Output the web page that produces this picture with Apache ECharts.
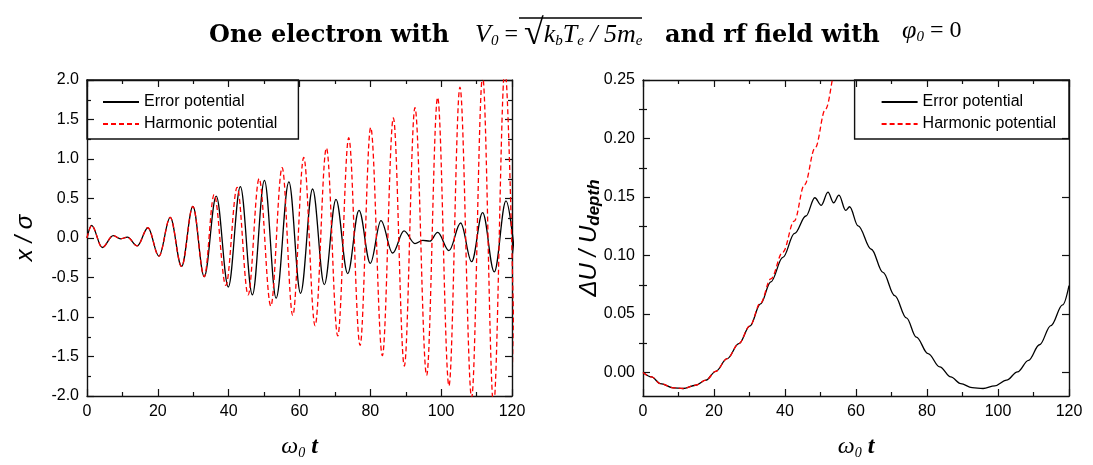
<!DOCTYPE html>
<html>
<head>
<meta charset="utf-8">
<script src="https://cdn.jsdelivr.net/npm/echarts@6/dist/echarts.min.js"></script>
<style>
  html, body { margin: 0; padding: 0; background: #fff; }
  #chart { width: 1093px; height: 465px; }
</style>
</head>
<body>
<div id="chart"></div>
<script>
// left panel: x / sigma, extrema
const errT  = [0, 1.3, 4.3, 7.4, 9.5, 11.4, 14.2, 17.2, 20.3, 23.5, 26.7, 29.9, 33.1, 36.5, 39.9, 43.3, 46.7, 50.1, 53.4, 57.0, 60.3, 63.7, 67.0, 70.3, 73.6, 76.8, 80.0, 83.0, 86.3, 89.5, 92.6, 94.8, 96.8, 99.0, 102.2, 105.5, 108.6, 111.7, 115.0, 118.3, 121.5];
const errX  = [0, 0.16, -0.12, 0.03, -0.01, 0.01, -0.10, 0.13, -0.23, 0.26, -0.36, 0.40, -0.49, 0.53, -0.62, 0.65, -0.72, 0.73, -0.76, 0.71, -0.70, 0.62, -0.59, 0.49, -0.45, 0.35, -0.32, 0.22, -0.19, 0.09, -0.07, -0.03, -0.04, 0.07, -0.16, 0.19, -0.30, 0.32, -0.43, 0.47, -0.55];
const harmT = [0, 1.3, 4.3, 7.4, 9.5, 11.4, 14.2, 17.2, 20.3, 23.5, 26.7, 29.9, 33.1, 35.9, 39.2, 42.4, 45.5, 48.6, 51.9, 55.1, 58.1, 61.2, 64.4, 67.6, 70.8, 73.9, 77.1, 80.1, 83.4, 86.5, 89.6, 92.6, 95.9, 99.0, 102.2, 105.3, 108.6, 111.7, 114.8, 118.0, 121.0];
const harmX = [0, 0.16, -0.12, 0.03, -0.01, 0.01, -0.10, 0.13, -0.23, 0.26, -0.36, 0.40, -0.49, 0.55, -0.60, 0.64, -0.72, 0.75, -0.86, 0.89, -0.98, 1.02, -1.11, 1.14, -1.24, 1.27, -1.36, 1.40, -1.49, 1.52, -1.62, 1.65, -1.74, 1.78, -1.87, 1.91, -2.02, 2.05, -2.12, 2.15, -2.2];

// right panel: dU / U_depth, plateaus of the ripples
const duErrT  = [0, 2.4, 4.9, 8.5, 11.3, 14.8, 17.7, 20.5, 23.7, 27.0, 30.1, 33.1, 36.0, 39.4, 42.7, 45.9, 48.4, 50.2, 52.1, 53.7, 55.2, 57.1, 58.2, 60.6, 64.3, 67.6, 70.9, 74.2, 77.0, 80.3, 83.6, 86.7, 89.5, 92.7, 95.8, 99.1, 102.4, 105.5, 108.6, 111.7, 114.9, 118.2, 120];
const duErr   = [0, -0.0037, -0.0094, -0.0130, -0.0136, -0.0108, -0.0065, 0.0011, 0.0119, 0.0247, 0.0397, 0.0587, 0.0775, 0.0984, 0.119, 0.1338, 0.1494, 0.1429, 0.1542, 0.1451, 0.1516, 0.1386, 0.1417, 0.1253, 0.1054, 0.0856, 0.0658, 0.0468, 0.0303, 0.0162, 0.0048, -0.0037, -0.0094, -0.0128, -0.0136, -0.0113, -0.0065, 0.0006, 0.0105, 0.0238, 0.0402, 0.0578, 0.0743];
const duHarmT = [0, 2.4, 4.9, 8.5, 11.3, 14.8, 17.7, 20.5, 23.7, 27.0, 30.1, 33.1, 36.0, 39.4, 42.6, 45.5, 48.5, 51.4, 54.5, 57.5];
const duHarm  = [0, -0.0037, -0.0094, -0.0130, -0.0136, -0.0108, -0.0065, 0.0011, 0.0119, 0.0247, 0.0400, 0.0595, 0.0800, 0.1030, 0.1295, 0.1605, 0.1920, 0.2250, 0.2620, 0.3000];

const duTicks = [0, 0.05, 0.10, 0.15, 0.20, 0.25];
const duMinor = [0.025, 0.075, 0.125, 0.175, 0.225];

const pairs = (t, v) => t.map((x, i) => [x, v[i]]);

const chart = echarts.init(document.getElementById('chart'), null, { renderer: 'canvas' });

const sans = 'Liberation Sans, Arial, sans-serif';
const serif = 'Liberation Serif, Times New Roman, serif';
const boldSerif = 'DejaVu Serif, serif';
const spine = { onZero: false, lineStyle: { color: '#111', width: 1.4 } };
const tickLine = { color: '#111', width: 1.2 };

function xAx(grid, pos) {
    const bottom = pos === 'bottom';
    return {
        type: 'value', gridIndex: grid, position: pos, min: 0, max: 120, interval: 20,
        axisLine: spine,
        axisTick: { inside: true, length: 7, lineStyle: tickLine },
        minorTick: { show: true, splitNumber: 2, length: 4, lineStyle: tickLine },
        axisLabel: { show: bottom, color: '#000', fontSize: 16, fontFamily: sans, margin: 8 },
        splitLine: { show: false }, minorSplitLine: { show: false },
        name: bottom ? '{w|ω}{s|0}{t| t}' : '',
        nameLocation: 'middle', nameGap: 38,
        nameTextStyle: { rich: {
            w: { fontFamily: serif, fontStyle: 'italic', fontSize: 24, color: '#000' },
            s: { fontFamily: serif, fontStyle: 'italic', fontSize: 14, color: '#000', padding: [12, 0, 0, 0] },
            t: { fontFamily: serif, fontStyle: 'italic', fontWeight: 'bold', fontSize: 24, color: '#000' }
        } }
    };
}

const mathRich = {
    m: { fontFamily: serif, fontStyle: 'italic', fontWeight: 'normal', fontSize: 26, color: '#000' },
    n: { fontFamily: serif, fontWeight: 'normal', fontSize: 24, color: '#000' },
    r: { fontFamily: serif, fontWeight: 'normal', fontSize: 36, color: '#000' },
    s: { fontFamily: serif, fontStyle: 'italic', fontWeight: 'normal', fontSize: 15, color: '#000', padding: [13, 0, 0, 0] }
};
const boldStyle = { fontFamily: boldSerif, fontWeight: 'bold', fontSize: 24, color: '#000' };

const option = {
    animation: false,
    backgroundColor: '#fff',
    title: [
        { left: 204, top: 19, text: 'One electron with', textStyle: boldStyle },
        { left: 470, top: 12, text: '{m|V}{s|0}{n| = }{r|√}{m|k}{s|b}{m|T}{s|e}{m| / 5m}{s|e}', textStyle: { rich: mathRich } },
        { left: 660, top: 19, text: 'and rf field with', textStyle: boldStyle },
        { left: 897, top: 12, text: '{m|φ}{s|0}{n| = 0}', textStyle: { rich: mathRich } }
    ],
    graphic: [
        { type: 'line', shape: { x1: 519, y1: 18, x2: 642, y2: 18 }, style: { stroke: '#000', lineWidth: 1.3 } }
    ],
    grid: [
        { left: 87, top: 80, width: 425, height: 317 },
        { left: 643, top: 80, width: 426, height: 317 }
    ],
    legend: [
        {
            left: 87, top: 80, orient: 'vertical',
            data: ['Error potential', 'Harmonic potential'],
            itemWidth: 36, itemHeight: 12, itemGap: 6,
            padding: [14, 21, 7, 15],
            itemStyle: { opacity: 0 },
            borderColor: '#111', borderWidth: 1.4,
            textStyle: { fontSize: 16, fontFamily: sans, color: '#000' }
        },
        {
            right: 24, top: 80, orient: 'vertical',
            data: ['Error potential', 'Harmonic potential'],
            itemWidth: 36, itemHeight: 12, itemGap: 6,
            padding: [14, 13, 7, 26],
            itemStyle: { opacity: 0 },
            borderColor: '#111', borderWidth: 1.4,
            textStyle: { fontSize: 16, fontFamily: sans, color: '#000' }
        }
    ],
    xAxis: [xAx(0, 'bottom'), xAx(0, 'top'), xAx(1, 'bottom'), xAx(1, 'top')],
    yAxis: [
        {
            type: 'value', gridIndex: 0, position: 'left', min: -2, max: 2, interval: 0.5,
            axisLine: spine,
            axisTick: { inside: true, length: 7, lineStyle: tickLine },
            minorTick: { show: true, splitNumber: 2, length: 4, lineStyle: tickLine },
            axisLabel: { color: '#000', fontSize: 16, fontFamily: sans, margin: 8, formatter: v => v.toFixed(1) },
            splitLine: { show: false },
            name: 'x / σ', nameLocation: 'middle', nameGap: 50,
            nameTextStyle: { fontFamily: sans, fontStyle: 'italic', fontSize: 24, color: '#000' }
        },
        {
            type: 'value', gridIndex: 0, position: 'right', min: -2, max: 2, interval: 0.5,
            axisLine: spine,
            axisTick: { inside: true, length: 7, lineStyle: tickLine },
            minorTick: { show: true, splitNumber: 2, length: 4, lineStyle: tickLine },
            axisLabel: { show: false }, splitLine: { show: false }
        },
        {
            type: 'value', gridIndex: 1, position: 'left', min: -0.02, max: 0.25,
            axisLine: spine,
            axisTick: { inside: true, length: 7, customValues: duTicks, lineStyle: tickLine },
            axisLabel: { color: '#000', fontSize: 16, fontFamily: sans, margin: 8, customValues: duTicks, formatter: v => v.toFixed(2) },
            splitLine: { show: false },
            name: '{a|ΔU / U}{s|depth}', nameLocation: 'middle', nameGap: 40, nameMoveOverlap: false,
            nameTextStyle: { rich: {
                a: { fontFamily: sans, fontStyle: 'italic', fontSize: 24, color: '#000' },
                s: { fontFamily: sans, fontStyle: 'italic', fontWeight: 'bold', fontSize: 17, color: '#000', padding: [11, 0, 0, 0] }
            } }
        },
        {
            type: 'value', gridIndex: 1, position: 'left', min: -0.02, max: 0.25,
            axisLine: { show: false },
            axisTick: { inside: true, length: 4, customValues: duMinor, lineStyle: tickLine },
            axisLabel: { show: false }, splitLine: { show: false }
        },
        {
            type: 'value', gridIndex: 1, position: 'right', min: -0.02, max: 0.25,
            axisLine: spine,
            axisTick: { inside: true, length: 7, customValues: duTicks, lineStyle: tickLine },
            axisLabel: { show: false }, splitLine: { show: false }
        },
        {
            type: 'value', gridIndex: 1, position: 'right', min: -0.02, max: 0.25,
            axisLine: { show: false },
            axisTick: { inside: true, length: 4, customValues: duMinor, lineStyle: tickLine },
            axisLabel: { show: false }, splitLine: { show: false }
        }
    ],
    series: [
        {
            name: 'Error potential', type: 'line', xAxisIndex: 0, yAxisIndex: 0,
            data: pairs(errT, errX), showSymbol: false, symbol: 'none',
            smooth: 0.36, smoothMonotone: 'x', clip: true,
            lineStyle: { color: '#000', width: 1.3 }, itemStyle: { color: '#000' }
        },
        {
            name: 'Harmonic potential', type: 'line', xAxisIndex: 0, yAxisIndex: 0,
            data: pairs(harmT, harmX), showSymbol: false, symbol: 'none',
            smooth: 0.36, smoothMonotone: 'x', clip: true,
            lineStyle: { color: '#ff0000', width: 1.3, type: [5, 3] }, itemStyle: { color: '#ff0000' }
        },
        {
            name: 'Error potential', type: 'line', xAxisIndex: 2, yAxisIndex: 2,
            data: pairs(duErrT, duErr), showSymbol: false, symbol: 'none',
            smooth: 0.36, smoothMonotone: 'x', clip: true,
            lineStyle: { color: '#000', width: 1.3 }, itemStyle: { color: '#000' }
        },
        {
            name: 'Harmonic potential', type: 'line', xAxisIndex: 2, yAxisIndex: 2,
            data: pairs(duHarmT, duHarm), showSymbol: false, symbol: 'none',
            smooth: 0.36, smoothMonotone: 'x', clip: true,
            lineStyle: { color: '#ff0000', width: 1.3, type: [5, 3] }, itemStyle: { color: '#ff0000' }
        }
    ]
};

chart.setOption(option);
window.addEventListener('resize', chart.resize);
</script>
</body>
</html>
